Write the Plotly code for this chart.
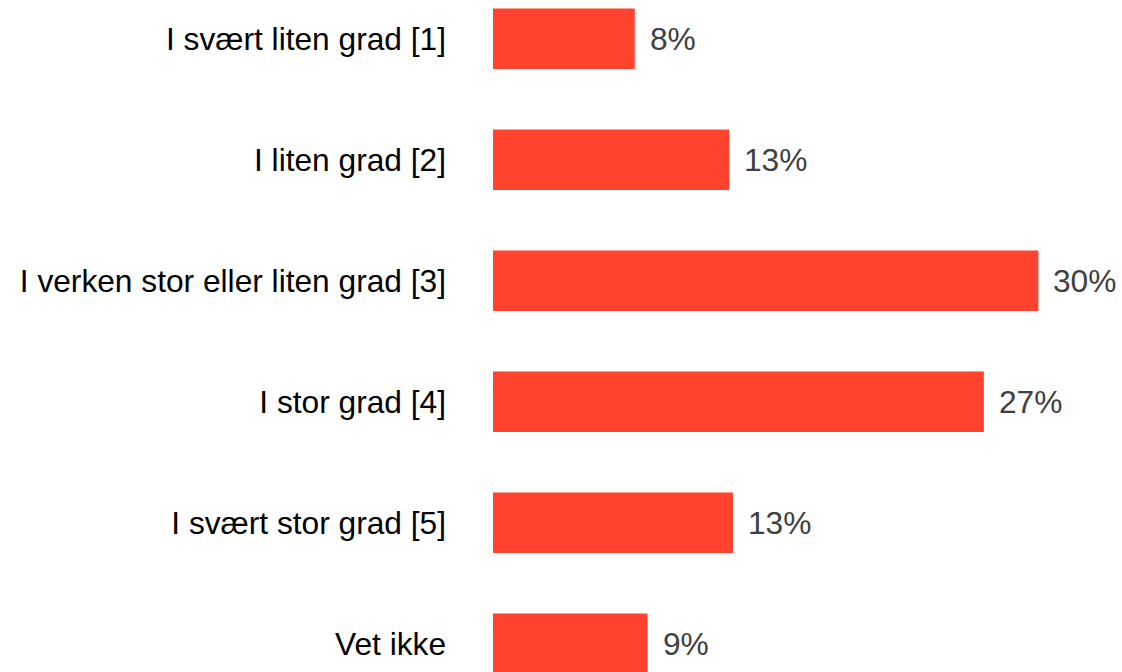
import math
import plotly.graph_objects as go

# Survey answers and share of respondents (%)
categories = [
    "I svært liten grad [1]",
    "I liten grad [2]",
    "I verken stor eller liten grad [3]",
    "I stor grad [4]",
    "I svært stor grad [5]",
    "Vet ikke",
]
shares = [7.8, 13.0, 30.0, 27.0, 13.2, 8.5]

BAR_COLOR = "#FF432E"
FONT = "Liberation Sans, Arial, sans-serif"


def pct_label(v):
    # round half up, so 8.5 reads as 9%
    return f"{int(math.floor(v + 0.5))}%"


fig = go.Figure(
    go.Bar(
        x=shares,
        y=categories,
        orientation="h",
        marker=dict(color=BAR_COLOR, line=dict(width=0)),
        hoverinfo="skip",
    )
)

# Percentage labels just right of each bar
for cat, val in zip(categories, shares):
    fig.add_annotation(
        x=val,
        y=cat,
        text=pct_label(val),
        showarrow=False,
        xanchor="left",
        yanchor="middle",
        xshift=13,
        font=dict(family=FONT, size=31.7, color="#404040"),
    )

fig.update_layout(
    width=1122,
    height=672,
    margin=dict(l=493, r=0, t=0, b=0),
    paper_bgcolor="white",
    plot_bgcolor="white",
    bargap=0.5,
    showlegend=False,
    font=dict(family=FONT, size=31.7, color="#000000"),
)
fig.update_xaxes(
    range=[0, 34.6],
    visible=False,
    showgrid=False,
    zeroline=False,
)
fig.update_yaxes(
    categoryorder="array",
    categoryarray=categories,
    range=[5.234, -0.320],
    showgrid=False,
    zeroline=False,
    showline=False,
    ticks="",
    ticklabelstandoff=46,
    tickfont=dict(family=FONT, size=31.7, color="#000000"),
)

fig.write_html("out.html")
